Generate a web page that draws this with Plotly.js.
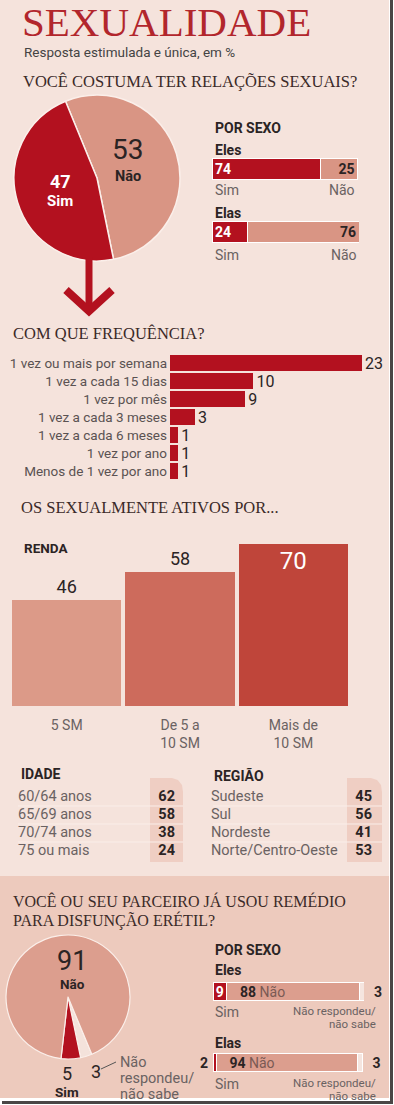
<!DOCTYPE html>
<html><head><meta charset="utf-8">
<script src="https://cdn.plot.ly/plotly-3.0.1.min.js"></script>
<style>html,body{margin:0;padding:0;background:#fff;}#chart{width:394px;height:1105px;}</style>
</head><body><div id="chart"></div>
<script>
// ---------- DATA ----------
const pie1Labels = ['Não', 'Sim'];
const pie1Values = [53, 47];
const sexGroups = ['Eles', 'Elas'];
const sexSim = [74, 24];
const sexNao = [25, 76];
const freqCats = ['1 vez ou mais por semana', '1 vez a cada 15 dias', '1 vez por mês', '1 vez a cada 3 meses', '1 vez a cada 6 meses', '1 vez por ano', 'Menos de 1 vez por ano'];
const freqVals = [23, 10, 9, 3, 1, 1, 1];
const rendaCats = ['5 SM', 'De 5 a<br>10 SM', 'Mais de<br>10 SM'];
const rendaVals = [46, 58, 70];
const idadeCats = ['60/64 anos', '65/69 anos', '70/74 anos', '75 ou mais'];
const idadeVals = [62, 58, 38, 24];
const regiaoCats = ['Sudeste', 'Sul', 'Nordeste', 'Norte/Centro-Oeste'];
const regiaoVals = [45, 56, 41, 53];
const pie2Labels = ['Não respondeu/não sabe', 'Sim', 'Não'];
const pie2Values = [3, 5, 91];
const remGroups = ['Eles', 'Elas'];
const remSim = [9, 2];
const remNao = [88, 94];
const remNR = [3, 3];

// ---------- HELPERS ----------
const W = 394, H = 1105;
const px = v => v / W, py = v => 1 - v / H;
const dx = (a, b) => [a / W, b / W];
const dy = (top, bot) => [1 - bot / H, 1 - top / H];
const SERIF = '"Liberation Serif", "DejaVu Serif", serif';
const SANS = 'Roboto, "Liberation Sans", sans-serif';
const RED = '#b3111f', SALMON = '#d99584', DARK = '#2b2424', GREY = '#6a6262', HEAD = '#3b2a28';

function A(text, x, y, size, color, opts) {
  return Object.assign({xref: 'paper', yref: 'paper', x: px(x), y: py(y), text: text, showarrow: false,
    xanchor: 'left', yanchor: 'middle', font: {family: SANS, size: size, color: color}}, opts || {});
}
function P(pts) { // pixel polyline -> paper path
  return pts.map((p, i) => (i ? 'L' : 'M') + px(p[0]).toFixed(5) + ',' + py(p[1]).toFixed(5)).join(' ');
}
const hide = {showgrid: false, zeroline: false, showline: false, ticks: '', showticklabels: false, fixedrange: true};

// ---------- TRACES ----------
const traces = [];
traces.push({type: 'pie', labels: pie1Labels, values: pie1Values, sort: false, direction: 'clockwise', rotation: -22.3,
  textinfo: 'none', hoverinfo: 'label+value', marker: {colors: [SALMON, RED], line: {color: '#fbefea', width: 1.5}},
  domain: {x: dx(14, 180), y: dy(95, 261)}, showlegend: false});

traces.push({type: 'bar', orientation: 'h', y: sexGroups, x: sexSim, xaxis: 'x2', yaxis: 'y2', width: 0.33,
  marker: {color: RED, line: {color: '#fff', width: 1}}, texttemplate: '<b>%{x}</b>', textposition: 'inside',
  insidetextanchor: 'start', constraintext: 'none', textfont: {family: SANS, size: 14, color: '#fff'}});
traces.push({type: 'bar', orientation: 'h', y: sexGroups, x: sexNao, xaxis: 'x2', yaxis: 'y2', width: 0.33,
  marker: {color: SALMON, line: {color: '#fff', width: 1}}, texttemplate: '<b>%{x}</b>', textposition: 'inside',
  insidetextanchor: 'end', constraintext: 'none', textfont: {family: SANS, size: 14, color: DARK}});

traces.push({type: 'bar', orientation: 'h', y: freqCats, x: freqVals, xaxis: 'x3', yaxis: 'y3', width: 0.93,
  marker: {color: RED}, texttemplate: '%{x}', textposition: 'outside', cliponaxis: false, constraintext: 'none',
  textfont: {family: SANS, size: 16, color: DARK}});

traces.push({type: 'bar', x: rendaCats, y: rendaVals, xaxis: 'x4', yaxis: 'y4', width: 0.965,
  marker: {color: ['#dc9a88', '#cd6b5c', '#bf453a']}, texttemplate: '%{y}',
  textposition: ['outside', 'outside', 'inside'], insidetextanchor: 'end', cliponaxis: false, constraintext: 'none',
  textfont: {family: SANS, size: [18, 18, 24], color: [DARK, DARK, '#fff']}});

function table(cats, vals, xa, ya) {
  traces.push({type: 'scatter', mode: 'text', x: cats.map(() => 0), y: cats, text: cats, textposition: 'middle right',
    xaxis: xa, yaxis: ya, cliponaxis: false, hoverinfo: 'skip', textfont: {family: SANS, size: 14.5, color: GREY}});
  traces.push({type: 'scatter', mode: 'text', x: cats.map(() => 1), y: cats, text: vals.map(v => '<b>' + v + '</b>'),
    textposition: 'middle left', xaxis: xa, yaxis: ya, cliponaxis: false, hoverinfo: 'skip',
    textfont: {family: SANS, size: 14.5, color: DARK}});
}
table(idadeCats, idadeVals, 'x5', 'y5');
table(regiaoCats, regiaoVals, 'x6', 'y6');

traces.push({type: 'pie', labels: pie2Labels, values: pie2Values, sort: false, direction: 'clockwise', rotation: 157.4,
  textinfo: 'none', hoverinfo: 'label+value', marker: {colors: ['#f4e2db', RED, '#dc9e8e'], line: {color: '#fbefea', width: 1.2}},
  domain: {x: dx(6, 130), y: dy(935, 1059)}, showlegend: false});

traces.push({type: 'bar', orientation: 'h', y: remGroups, x: remSim, xaxis: 'x7', yaxis: 'y7', width: 0.26,
  marker: {color: RED, line: {color: '#fff', width: 1}}, texttemplate: ['<b>%{x}</b>', ''], textposition: 'inside',
  insidetextanchor: 'middle', constraintext: 'none', textfont: {family: SANS, size: 14, color: '#fff'}});
traces.push({type: 'bar', orientation: 'h', y: remGroups, x: remNao, xaxis: 'x7', yaxis: 'y7', width: 0.26,
  marker: {color: '#dc9e8e', line: {color: '#fff', width: 1}},
  texttemplate: '\u00a0\u00a0\u00a0<b>%{x}</b> <span style="color:#7a5a54">Não</span>', textposition: 'inside',
  insidetextanchor: 'start', constraintext: 'none', textfont: {family: SANS, size: 14, color: DARK}});
traces.push({type: 'bar', orientation: 'h', y: remGroups, x: remNR, xaxis: 'x7', yaxis: 'y7', width: 0.26,
  marker: {color: '#f5e5df', line: {color: '#fff', width: 1}}, texttemplate: '\u00a0\u00a0<b>%{x}</b>',
  textposition: 'outside', cliponaxis: false, constraintext: 'none', textfont: {family: SANS, size: 14, color: DARK}});

// ---------- SHAPES ----------
const shapes = [
  {type: 'rect', xref: 'paper', yref: 'paper', x0: 0, x1: px(389), y0: py(876), y1: 1, fillcolor: '#f5e3dc', line: {width: 0}, layer: 'below'},
  {type: 'rect', xref: 'paper', yref: 'paper', x0: 0, x1: px(389), y0: py(1098), y1: py(876), fillcolor: '#edcabd', line: {width: 0}, layer: 'below'},
  {type: 'rect', xref: 'paper', yref: 'paper', x0: px(390), x1: px(393), y0: py(1104), y1: 1, fillcolor: '#4a4646', line: {width: 0}, layer: 'below'},
  {type: 'rect', xref: 'paper', yref: 'paper', x0: px(2), x1: px(393), y0: py(1104), y1: py(1101), fillcolor: '#4a4646', line: {width: 0}, layer: 'below'},
  // value columns shading
  {type: 'path', xref: 'paper', yref: 'paper', path: P([[150, 862], [150, 778], [172, 778], [178, 780], [182, 785], [183, 792], [183, 862]]) + ' Z', fillcolor: '#efcec3', line: {width: 0}, layer: 'below'},
  {type: 'path', xref: 'paper', yref: 'paper', path: P([[347, 862], [347, 778], [371, 778], [377, 780], [381, 785], [382, 792], [382, 862]]) + ' Z', fillcolor: '#efcec3', line: {width: 0}, layer: 'below'},
  // arrow
  {type: 'line', xref: 'paper', yref: 'paper', x0: px(89), x1: px(89), y0: py(257), y1: py(307), line: {color: RED, width: 7}},
  {type: 'path', xref: 'paper', yref: 'paper', path: P([[66, 290], [89, 311], [112, 290]]), line: {color: RED, width: 8}},
  // leader line pie 2
  {type: 'line', xref: 'paper', yref: 'paper', x0: px(101), x1: px(116), y0: py(1069), y1: py(1062), line: {color: '#555', width: 1}}
];
[806, 824, 842].forEach(y => {
  shapes.push({type: 'line', xref: 'paper', yref: 'paper', x0: px(18), x1: px(183), y0: py(y), y1: py(y), line: {color: '#faeee9', width: 1}, layer: 'below'});
  shapes.push({type: 'line', xref: 'paper', yref: 'paper', x0: px(213), x1: px(382), y0: py(y), y1: py(y), line: {color: '#faeee9', width: 1}, layer: 'below'});
});

// ---------- ANNOTATIONS ----------
const ann = [
  A('SEXUALIDADE', 20, 22, 41, '#b2262c', {font: {family: SERIF, size: 41, color: '#b2262c'}}),
  A('Resposta estimulada e única, em %', 22, 52, 13.5, '#444'),
  A('VOCÊ COSTUMA TER RELAÇÕES SEXUAIS?', 21, 82, 16.5, HEAD, {font: {family: SERIF, size: 16.5, color: HEAD}}),
  A('<b>' + pie1Values[1] + '</b>', 60, 182, 18, '#fff', {xanchor: 'center'}),
  A('<b>' + pie1Labels[1] + '</b>', 60, 201, 15, '#fff', {xanchor: 'center'}),
  A(String(pie1Values[0]), 128, 150, 28, DARK, {xanchor: 'center'}),
  A('<b>' + pie1Labels[0] + '</b>', 128, 176, 14.5, DARK, {xanchor: 'center'}),
  A('<b>POR SEXO</b>', 213, 128, 14, DARK),
  A('<b>' + sexGroups[0] + '</b>', 213, 150, 14, DARK),
  A('Sim', 213, 190, 14, GREY),
  A('Não', 357, 190, 14, GREY, {xanchor: 'right'}),
  A('<b>' + sexGroups[1] + '</b>', 213, 213, 14, DARK),
  A('Sim', 213, 255, 14, GREY),
  A('Não', 359, 255, 14, GREY, {xanchor: 'right'}),
  A('COM QUE FREQUÊNCIA?', 11, 333, 16.5, HEAD, {font: {family: SERIF, size: 16.5, color: HEAD}}),
  A('OS SEXUALMENTE ATIVOS POR...', 19, 508, 16.5, HEAD, {font: {family: SERIF, size: 16.5, color: HEAD}}),
  A('<b>RENDA</b>', 22, 548, 13.5, DARK),
  A('<b>IDADE</b>', 19, 774, 14, DARK),
  A('<b>REGIÃO</b>', 212, 775, 14, DARK),
  A('VOCÊ OU SEU PARCEIRO JÁ USOU REMÉDIO', 11, 901, 16, HEAD, {font: {family: SERIF, size: 16, color: HEAD}}),
  A('PARA DISFUNÇÃO ERÉTIL?', 11, 920, 16, HEAD, {font: {family: SERIF, size: 16, color: HEAD}}),
  A(String(pie2Values[2]), 72, 961, 27, DARK, {xanchor: 'center'}),
  A('<b>Não</b>', 72, 984, 13.5, DARK, {xanchor: 'center'}),
  A(String(pie2Values[1]), 67, 1073, 18, DARK, {xanchor: 'center'}),
  A('<b>Sim</b>', 67, 1092, 13.5, DARK, {xanchor: 'center'}),
  A(String(pie2Values[0]), 96, 1071, 18, DARK, {xanchor: 'center'}),
  A('Não', 118, 1062, 14.5, GREY),
  A('respondeu/', 118, 1078, 14.5, GREY),
  A('não sabe', 118, 1094, 14.5, GREY),
  A('<b>POR SEXO</b>', 213, 950, 14, DARK),
  A('<b>' + remGroups[0] + '</b>', 213, 970, 14, DARK),
  A('Sim', 213, 1012, 14, GREY),
  A('Não respondeu/', 378, 1011, 11.5, GREY, {xanchor: 'right'}),
  A('não sabe', 378, 1024, 11.5, GREY, {xanchor: 'right'}),
  A('<b>' + remGroups[1] + '</b>', 213, 1043, 14, DARK),
  A('Sim', 213, 1084, 14, GREY),
  A('Não respondeu/', 378, 1083, 11.5, GREY, {xanchor: 'right'}),
  A('não sabe', 378, 1096, 11.5, GREY, {xanchor: 'right'}),
  {xref: 'x7', yref: 'y7', x: 0, y: 1, text: '<b>' + remSim[1] + '</b>', showarrow: false, xanchor: 'right', yanchor: 'middle',
    xshift: -3, font: {family: SANS, size: 14, color: DARK}}
];

// ---------- LAYOUT ----------
const layout = {
  width: W, height: H, margin: {l: 0, r: 0, t: 0, b: 0}, paper_bgcolor: '#ffffff', plot_bgcolor: 'rgba(0,0,0,0)',
  showlegend: false, barmode: 'stack', hovermode: false, shapes: shapes, annotations: ann,
  xaxis2: Object.assign({}, hide, {domain: dx(212, 359), range: [0, 100], anchor: 'y2'}),
  yaxis2: Object.assign({}, hide, {domain: dy(137, 264), autorange: 'reversed', anchor: 'x2'}),
  xaxis3: Object.assign({}, hide, {domain: dx(170, 362), range: [0, 23], anchor: 'y3'}),
  yaxis3: Object.assign({}, hide, {domain: dy(354, 480), autorange: 'reversed', anchor: 'x3', showticklabels: true,
    ticklabelstandoff: 2, tickfont: {family: SANS, size: 13.5, color: '#5a5252'}}),
  xaxis4: Object.assign({}, hide, {domain: dx(10, 350), anchor: 'y4', showticklabels: true, ticklabelstandoff: 9,
    tickfont: {family: SANS, size: 14, color: GREY}}),
  yaxis4: Object.assign({}, hide, {domain: dy(521, 706), range: [0, 80], anchor: 'x4'}),
  xaxis5: Object.assign({}, hide, {domain: dx(18, 175), range: [0, 1], anchor: 'y5'}),
  yaxis5: Object.assign({}, hide, {domain: dy(788, 860), type: 'category', range: [3.5, -0.5], anchor: 'x5'}),
  xaxis6: Object.assign({}, hide, {domain: dx(211, 372), range: [0, 1], anchor: 'y6'}),
  yaxis6: Object.assign({}, hide, {domain: dy(788, 860), type: 'category', range: [3.5, -0.5], anchor: 'x6'}),
  xaxis7: Object.assign({}, hide, {domain: dx(213, 364), range: [0, 100], anchor: 'y7'}),
  yaxis7: Object.assign({}, hide, {domain: dy(956, 1098), autorange: 'reversed', anchor: 'x7'})
};

Plotly.newPlot('chart', traces, layout, {staticPlot: true, displayModeBar: false});
</script></body></html>
